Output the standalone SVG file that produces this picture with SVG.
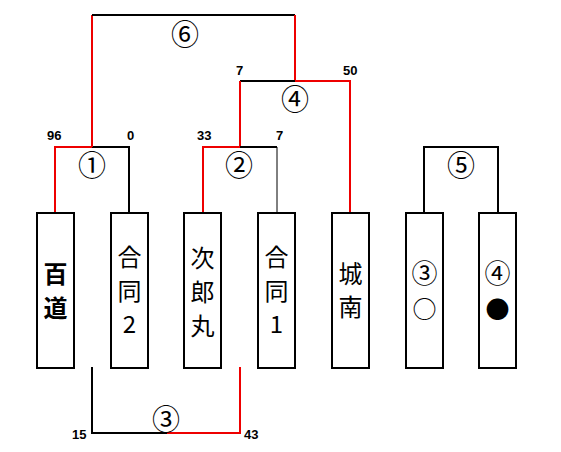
<svg xmlns="http://www.w3.org/2000/svg" width="561" height="452" viewBox="0 0 561 452">
<style>
.box{fill:#fff;stroke:#000;stroke-width:2}
.bk{fill:none;stroke:#000;stroke-width:2}
.th{fill:none;stroke:#000;stroke-width:1}
.rd{fill:none;stroke:#e00;stroke-width:2}
.nm{font-family:"Liberation Sans",Arial,sans-serif;font-weight:bold;font-size:13px;fill:#000}
.cn{font-family:"Noto Sans CJK JP","DejaVu Sans",sans-serif;font-size:28px;fill:#000;text-anchor:middle}
.cb{font-family:"Noto Sans CJK JP","DejaVu Sans",sans-serif;font-size:26px;fill:#000;text-anchor:middle}
.bt{font-family:"Noto Sans CJK JP",sans-serif;font-size:24px;fill:#000;text-anchor:middle}
.bd{font-weight:bold}
</style>
<rect width="561" height="452" fill="#fff"/>
<g id="connectors">
<path class="rd" d="M55,213V147H92"/>
<path class="bk" d="M92,147H129V213"/>
<path class="rd" d="M92,147V15"/>
<path class="bk" d="M92,15H295"/>
<path class="rd" d="M295,15V81H350V213"/>
<path class="bk" d="M240,81H295"/>
<path class="rd" d="M240,81V147H203V213"/>
<path class="bk" d="M240,147H277"/>
<path class="th" d="M277,147V213"/>
<path class="bk" d="M424,213V147H498V213"/>
<path class="bk" d="M92,367V433H167"/>
<path class="rd" d="M167,433H240V367"/>
</g>
<g id="labels">
<text class="cn" x="185" y="45">⑥</text>
<text class="cn" x="295" y="110">④</text>
<text class="cn" x="92" y="176">①</text>
<text class="cn" x="239" y="176">②</text>
<text class="cn" x="461" y="176">⑤</text>
<text class="cn" x="166" y="430">③</text>
<text class="nm" x="47" y="140">96</text>
<text class="nm" x="127" y="140">0</text>
<text class="nm" x="197" y="140">33</text>
<text class="nm" x="276" y="140">7</text>
<text class="nm" x="236" y="75">7</text>
<text class="nm" x="343" y="75">50</text>
<text class="nm" x="72" y="439">15</text>
<text class="nm" x="244" y="439">43</text>
</g>
<g id="n1"><rect class="box" x="37" y="213" width="37" height="155"/><text class="bt bd" x="55.5" y="283">百</text><text class="bt bd" x="55.5" y="317">道</text></g>
<g id="n2"><rect class="box" x="111" y="213" width="37" height="155"/><text class="bt" x="129.5" y="266">合</text><text class="bt" x="129.5" y="300">同</text><text class="bt" x="129.5" y="333">2</text></g>
<g id="n3"><rect class="box" x="184" y="213" width="37" height="155"/><text class="bt" x="202.5" y="267">次</text><text class="bt" x="202.5" y="301">郎</text><text class="bt" x="202.5" y="335">丸</text></g>
<g id="n4"><rect class="box" x="258" y="213" width="37" height="155"/><text class="bt" x="276.5" y="266">合</text><text class="bt" x="276.5" y="300">同</text><text class="bt" x="276.5" y="333">1</text></g>
<g id="n5"><rect class="box" x="332" y="213" width="37" height="155"/><text class="bt" x="350.5" y="283">城</text><text class="bt" x="350.5" y="316">南</text></g>
<g id="n6"><rect class="box" x="406" y="213" width="37" height="155"/><text class="cb" x="424.5" y="283">③</text><text class="bt" x="424.5" y="318">○</text></g>
<g id="n7"><rect class="box" x="479" y="213" width="37" height="155"/><text class="cb" x="497.5" y="283">④</text><text class="bt" x="497.5" y="318">●</text></g>
</svg>
